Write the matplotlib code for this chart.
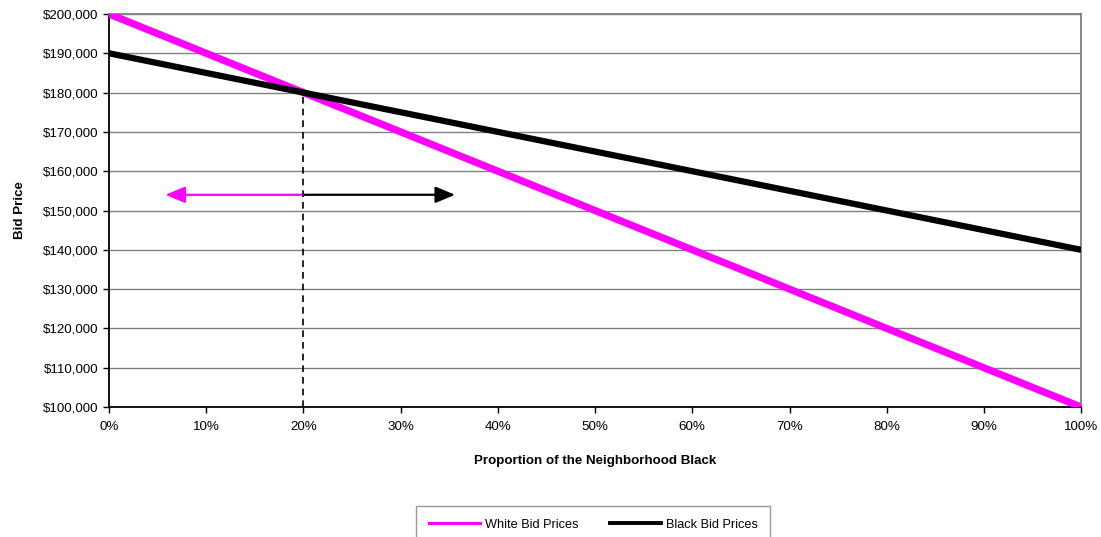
import matplotlib
matplotlib.use("Agg")
import matplotlib.pyplot as plt
from matplotlib.lines import Line2D
from matplotlib.ticker import FuncFormatter, MultipleLocator

plt.rcParams['font.family'] = ['Liberation Sans', 'DejaVu Sans']

# share of the neighborhood that is black
proportion = [0.0, 0.1, 0.2, 0.3, 0.4, 0.5, 0.6, 0.7, 0.8, 0.9, 1.0]
white_bid = [200000, 190000, 180000, 170000, 160000, 150000,
             140000, 130000, 120000, 110000, 100000]
black_bid = [190000, 185000, 180000, 175000, 170000, 165000,
             160000, 155000, 150000, 145000, 140000]

# where the two bid curves cross, and the arrows either side of it
cross_x = 0.2
cross_y = 180000
arrow_y = 154000
white_arrow_end = 0.058
black_arrow_end = 0.356

pink = '#ff00ff'

fig = plt.figure(figsize=(11.01, 5.37), dpi=100)
ax = fig.add_axes([0.099, 0.242, 0.883, 0.732])

ax.yaxis.set_major_locator(MultipleLocator(10000))
ax.xaxis.set_major_locator(MultipleLocator(0.1))
ax.grid(axis='y', color='#808080', linewidth=1)
ax.set_axisbelow(True)

ax.plot(proportion, white_bid, color=pink, linewidth=5.2, solid_capstyle='butt',
        label='White Bid Prices', zorder=3)
ax.plot(proportion, black_bid, color='black', linewidth=4.5, solid_capstyle='butt',
        label='Black Bid Prices', zorder=3)

# dashed drop line from the crossing point
ax.plot([cross_x, cross_x], [100000, cross_y], color='black', linewidth=1.2,
        linestyle=(0, (4, 3)), zorder=2)

ax.annotate('', xy=(white_arrow_end, arrow_y), xytext=(cross_x, arrow_y),
            arrowprops=dict(arrowstyle='-|>,head_length=1.2,head_width=0.5',
                            color=pink, lw=1.6, shrinkA=0, shrinkB=0))
ax.annotate('', xy=(black_arrow_end, arrow_y), xytext=(cross_x, arrow_y),
            arrowprops=dict(arrowstyle='-|>,head_length=1.2,head_width=0.5',
                            color='black', lw=1.6, shrinkA=0, shrinkB=0))

ax.set_xlim(0, 1)
ax.set_ylim(100000, 200000)
ax.xaxis.set_major_formatter(FuncFormatter(lambda v, p: '{:.0f}%'.format(v * 100)))
ax.yaxis.set_major_formatter(FuncFormatter(lambda v, p: '${:,.0f}'.format(v)))
ax.tick_params(axis='both', labelsize=9.6, length=4, width=1, color='black')
ax.tick_params(axis='x', pad=6)

for side in ['top', 'right']:
    ax.spines[side].set_color('#808080')
    ax.spines[side].set_linewidth(1.3)
for side in ['left', 'bottom']:
    ax.spines[side].set_color('black')
    ax.spines[side].set_linewidth(1.3)

ax.set_xlabel('Proportion of the Neighborhood Black', fontsize=9.6,
              fontweight='bold', labelpad=16)
ax.set_ylabel('Bid Price', fontsize=9.6, fontweight='bold', labelpad=12)

handles = [Line2D([0], [0], color=pink, linewidth=2.2),
           Line2D([0], [0], color='black', linewidth=2.8)]
leg = fig.legend(handles, ['White Bid Prices', 'Black Bid Prices'],
                 loc='upper center', bbox_to_anchor=(0.539, 0.058), ncol=2,
                 fontsize=9.2, frameon=True, fancybox=False, edgecolor='#808080',
                 handlelength=4.0, columnspacing=2.4, borderpad=1.0,
                 handletextpad=0.4, borderaxespad=0)
leg.get_frame().set_linewidth(1)

fig.savefig('out.png', dpi=100)
